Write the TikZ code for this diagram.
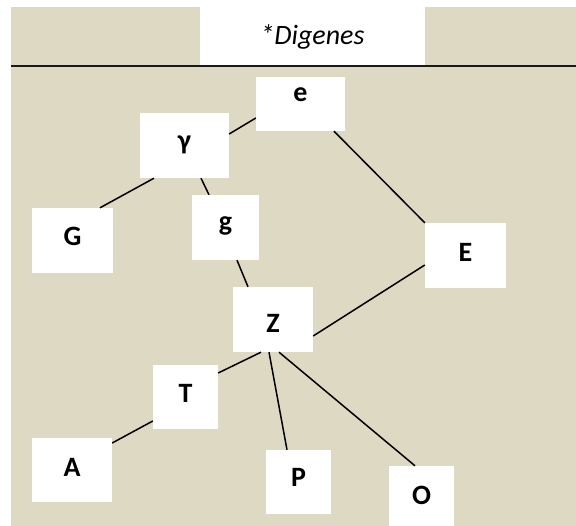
\documentclass[tikz,border=0pt]{standalone}
\usepackage{fontspec}
\setmainfont{Carlito}
\usetikzlibrary{calc}
\definecolor{bg}{HTML}{DDD9C3}
\begin{document}
\begin{tikzpicture}[x=1pt,y=-1pt,
  box/.style={fill=white, inner sep=0pt, font=\fontsize{28}{30}\selectfont\bfseries, align=center},
  link/.style={line width=1.5pt, black}]
\clip (0,0) rectangle (576,526);
\fill[bg] (11,7) rectangle (576,526);
\node[fill=white, inner sep=0pt, minimum width=225pt, text height=38pt, text depth=21pt, font=\fontsize{28}{30}\selectfont\itshape] (title) at (312.5,36.5) {*Digenes};
\coordinate (rl) at (11,66);
\coordinate (rr) at (576,66);
\draw[line width=1.7pt, black!90] (rl) -- (rr);
\node[box, minimum width=89pt, text height=25pt, text depth=29pt] (e) at (300.5,104) {e};
\node[box, minimum width=89pt, text height=37pt, text depth=28pt] (gm) at (184.5,145.5) {γ};
\node[box, minimum width=67pt, text height=36pt, text depth=29pt] (g) at (225.5,227.5) {g};
\node[box, minimum width=81pt, text height=38pt, text depth=27pt] (G) at (72.5,240.5) {G};
\node[box, minimum width=81pt, text height=39pt, text depth=26pt] (E) at (465.5,255.5) {E};
\node[box, minimum width=80pt, text height=46pt, text depth=19pt] (Z) at (273,319.5) {Z};
\node[box, minimum width=65pt, text height=38pt, text depth=26pt] (T) at (185.5,397) {T};
\node[box, minimum width=80pt, text height=39pt, text depth=25pt] (A) at (72,470) {A};
\node[box, minimum width=65pt, text height=37pt, text depth=27pt] (P) at (298.5,482) {P};
\node[box, minimum width=65pt, text height=38pt, text depth=26pt] (O) at (421.5,498) {O};
\draw[link] ($(e.west)+(0,14)$) -- ($(gm.east)+(0,-11.5)$);
\draw[link] ($(gm.south)+(-30.5,0)$) -- ($(G.north)+(27.5,0)$);
\draw[link] ($(gm.south)+(16.5,0)$) -- ($(g.north)+(-16.5,0)$);
\draw[link] ($(e.south)+(33.5,0)$) -- (E.north west);
\draw[link] ($(g.south)+(11.5,0)$) -- ($(Z.north)+(-25,0)$);
\draw[link] ($(Z.east)+(0,16.5)$) -- ($(E.west)+(0,9.5)$);
\draw[link] ($(Z.south)+(-12,0)$) -- ($(T.east)+(0,-24)$);
\draw[link] ($(T.west)+(0,24)$) -- ($(A.east)+(0,-27)$);
\draw[link] ($(Z.south)+(-4,0)$) -- ($(P.north)+(-11.5,0)$);
\draw[link] ($(Z.south)+(6,0)$) -- ($(O.north)+(-6.5,0)$);
\end{tikzpicture}
\end{document}
